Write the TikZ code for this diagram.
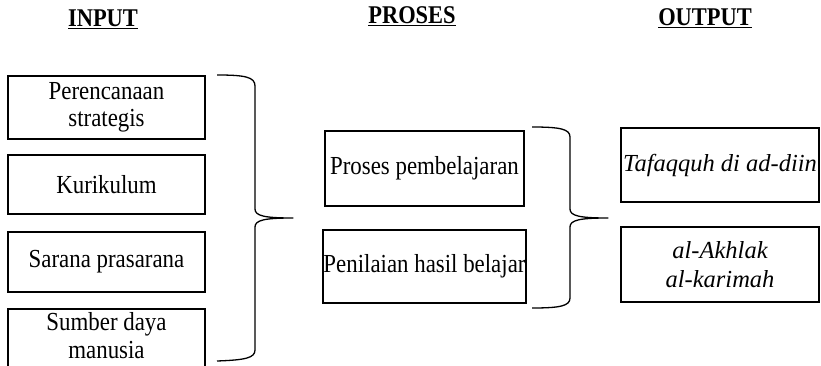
\documentclass[tikz,border=0pt]{standalone}
\usepackage{fontspec}
\setmainfont{Liberation Serif}[FakeStretch=0.88]
\newfontfamily\outfont{Liberation Serif}
\begin{document}
\begin{tikzpicture}[x=1pt,y=-1pt,
  box/.style={draw,line width=1.1pt,inner sep=0pt,align=center,
    font=\fontsize{26}{27}\selectfont},
  obox/.style={box,font=\outfont\itshape\fontsize{24.5}{29}\selectfont},
  head/.style={font=\fontsize{25.5}{27}\selectfont\bfseries},
  brace/.style={line width=1.3pt,line join=round}]
\clip (0,0) rectangle (821,366);
\node[head] (hin) at (103,19) {\underline{INPUT}};
\node[head] (hpr) at (412,16) {\underline{PROSES}};
\node[head] (hout) at (705,18) {\underline{OUTPUT}};
\node[box,minimum width=197pt,minimum height=63pt] (i1) at (106.5,107.5) {Perencanaan\\strategis};
\node[box,minimum width=197pt,minimum height=59pt] (i2) at (106.5,184.5) {Kurikulum};
\node[box,minimum width=197pt,minimum height=60pt] (i3) at (106.5,262) {Sarana prasarana};
\node[box,minimum width=197pt,minimum height=62pt] (i4) at (106.5,340) {};
\node[font=\fontsize{26}{28}\selectfont,align=center,inner sep=0pt] (t4) at (106.5,336) {Sumber daya\\manusia};
\node[box,minimum width=199pt,minimum height=75pt] (p1) at (424.5,168.5) {Proses pembelajaran};
\node[box,minimum width=203pt,minimum height=73pt] (p2) at (424.5,266.5) {Penilaian hasil belajar};
\node[obox,minimum width=198pt,minimum height=74pt] (o1) at (720,165) {Tafaqquh di ad-diin};
\node[obox,minimum width=198pt,minimum height=75pt] (o2) at (720,264.5) {al-Akhlak\\al-karimah};
\coordinate (b1) at (293,218);
\coordinate (b2) at (608,218);
\draw[brace] (217,75) .. controls (245,75) and (255,77) .. (255,86)
  -- (255,209) .. controls (255,216) and (265,218) .. (b1)
  .. controls (265,218) and (255,220) .. (255,227)
  -- (255,350) .. controls (255,358) and (245,360) .. (217,361);
\draw[brace] (532,127) .. controls (560,127) and (570,129) .. (570,137)
  -- (570,209) .. controls (570,216) and (580,218) .. (b2)
  .. controls (580,218) and (570,220) .. (570,227)
  -- (570,298) .. controls (570,306) and (560,308) .. (532,308);
\end{tikzpicture}
\end{document}
